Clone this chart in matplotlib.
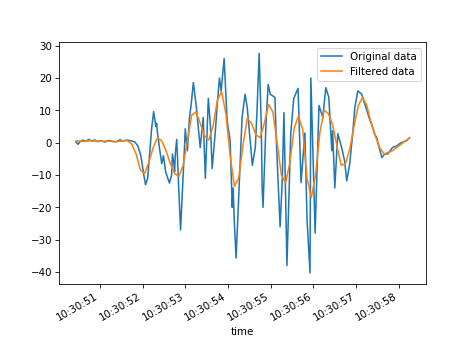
import matplotlib
matplotlib.use('Agg')
import matplotlib.pyplot as plt
import matplotlib.dates as mdates
import pandas as pd

base = pd.Timestamp('2023-01-01 10:30:50')

# seconds after 10:30:50 and values of the raw signal
orig_sec = [50.44, 50.49, 50.53, 50.60, 50.67, 50.74, 50.81, 50.88, 50.95, 51.02,
            51.12, 51.21, 51.30, 51.40, 51.47, 51.54, 51.63, 51.72, 51.82, 51.89,
            51.96, 52.03, 52.07, 52.12, 52.17, 52.21, 52.26, 52.31, 52.33, 52.35,
            52.40, 52.45, 52.49, 52.54, 52.59, 52.63, 52.68, 52.70, 52.73, 52.75,
            52.77, 52.80, 52.82, 52.84, 52.89, 52.93, 52.98, 53.00, 53.05, 53.10,
            53.14, 53.19, 53.26, 53.31, 53.35, 53.42, 53.47, 53.54, 53.59, 53.63,
            53.70, 53.75, 53.80, 53.84, 53.91, 53.98, 54.05, 54.10, 54.12, 54.15,
            54.19, 54.24, 54.29, 54.33, 54.40, 54.45, 54.52, 54.57, 54.64, 54.68,
            54.73, 54.78, 54.80, 54.82, 54.89, 54.94, 54.99, 55.03, 55.10, 55.12,
            55.15, 55.22, 55.27, 55.31, 55.38, 55.43, 55.47, 55.54, 55.64, 55.71,
            55.80, 55.85, 55.92, 55.94, 56.04, 56.13, 56.22, 56.29, 56.36, 56.43,
            56.45, 56.50, 56.57, 56.66, 56.73, 56.78, 56.85, 56.92, 56.97, 57.04,
            57.13, 57.20, 57.25, 57.32, 57.36, 57.43, 57.48, 57.55, 57.60, 57.67,
            57.74, 57.85, 57.95, 58.02, 58.11, 58.18, 58.25]
orig_val = [0.3, -0.5, 0.2, 0.8, 0.4, 1.0, 0.5, 0.8, 0.3, 0.6,
            0.2, 0.7, 0.4, 0.3, 0.9, 0.5, 0.8, 0.6, 0.2, -1.0,
            -4, -10, -13, -11, -3, 4, 9.6, 5, 6, 3,
            -2, -6.5, -4, -9, -11, -12.5, -10, -3.5, -6, -9,
            -3, 1, -5, -12, -27, -16, -2, 4.3, -2.5, 7.8,
            12, 18.6, 11, 4, -1.5, 7.8, -11, 13.7, 5, -8,
            2.8, 12, 20, 16, 26, 6.8, 0.6, -20, -14, -25,
            -35.7, -20, -5, 7.8, 15, 11, 0.6, -7, -1.5, 10,
            27.6, 5, -14, -20, 5.9, 18, 15, 14.6, 14, 5,
            -5, -26, -11.8, 9.3, -38, -15, 3, 13.7, 16.8, -12.4,
            3, -23.6, -40.3, 20, -28, 11.5, 7.8, 17, 14, -2.5,
            3.7, -14, 2.8, -1.5, -5.6, -11.8, -6.5, 3, 11, 16,
            15, 12, 10, 7, 5.9, 2.8, 1.5, -2, -4.6, -3.5,
            -3.5, -1.5, -1, -0.3, 0.3, 0.6, 1.5]

# filtered signal, every 0.1 s from 10:30:50.45
filt_sec = [50.45, 50.55, 50.65, 50.75, 50.85, 50.95, 51.05, 51.15, 51.25, 51.35,
            51.45, 51.55, 51.65, 51.75, 51.85, 51.95, 52.05, 52.15, 52.25, 52.35,
            52.45, 52.55, 52.65, 52.75, 52.85, 52.95, 53.05, 53.15, 53.25, 53.35,
            53.45, 53.55, 53.65, 53.75, 53.85, 53.95, 54.05, 54.15, 54.25, 54.35,
            54.45, 54.55, 54.65, 54.75, 54.85, 54.95, 55.05, 55.15, 55.25, 55.35,
            55.45, 55.55, 55.65, 55.75, 55.85, 55.95, 56.05, 56.15, 56.25, 56.35,
            56.45, 56.55, 56.65, 56.75, 56.85, 56.95, 57.05, 57.15, 57.25, 57.35,
            57.45, 57.55, 57.65, 57.75, 57.85, 57.95, 58.05, 58.15, 58.25]
filt_val = [0.6, 0.5, 0.4, 0.6, 0.5, 0.5, 0.4, 0.5, 0.4, 0.3,
            0.4, 0.6, 0.6, -0.5, -3.5, -8.5, -9.5, -6, -1.5, 1.5,
            0.5, -2.5, -6.5, -9.5, -10.5, -7, 0.5, 8.5, 9.5, 6,
            2, 0.8, 5, 13, 15.8, 9, -4, -13.5, -11, -1,
            7.5, 6, 2.5, 1.5, 6, 11.8, 9.5, 0, -10, -12.5,
            -6, 4.5, 8.2, 4, -11, -17, -10, 3, 10, 9,
            5.5, -1, -7, -6.5, -2, 5, 11.5, 14, 11.5, 6,
            2, -1.5, -3.5, -3, -2.5, -1.5, -0.5, 0.5, 1.5]

orig_t = [base + pd.Timedelta(seconds=s - 50) for s in orig_sec]
filt_t = [base + pd.Timedelta(seconds=s - 50) for s in filt_sec]

fig, ax = plt.subplots(figsize=(6.4, 4.8), dpi=74)
ax.plot(orig_t, orig_val, label='Original data')
ax.plot(filt_t, filt_val, label='Filtered data')
ax.xaxis.set_major_locator(mdates.SecondLocator())
ax.xaxis.set_major_formatter(mdates.DateFormatter('%H:%M:%S'))
ax.set_xlabel('time')
ax.legend(loc='upper right')
fig.autofmt_xdate()

fig.savefig('out.png', dpi=74)
